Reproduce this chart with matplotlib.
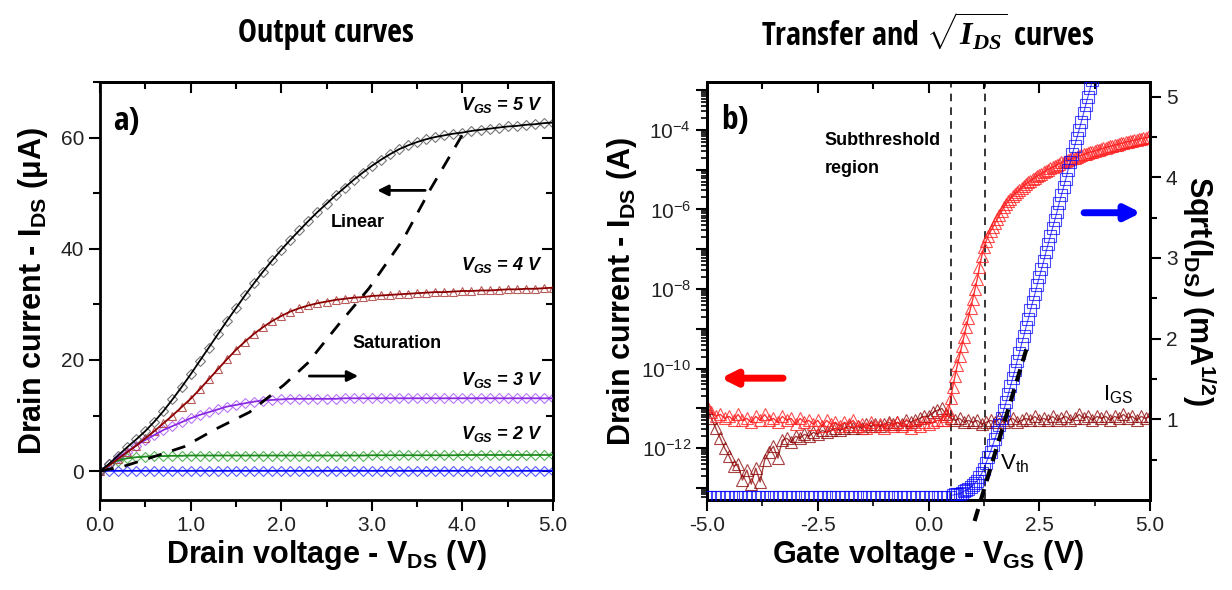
import numpy as np
import matplotlib
matplotlib.use("Agg")
import matplotlib.pyplot as plt
from matplotlib.ticker import MultipleLocator, FixedLocator, FormatStrFormatter, LogLocator, FuncFormatter, NullFormatter

plt.rcParams['font.family'] = ['Liberation Sans', 'DejaVu Sans']
plt.rcParams['mathtext.fontset'] = 'custom'
plt.rcParams['mathtext.it'] = 'Liberation Serif:italic:bold'
plt.rcParams['mathtext.default'] = 'regular'

# ---- panel a: output curves (I_DS in uA vs V_DS) ----
vds = np.round(np.linspace(0, 5, 51), 2)
ids_5v = [0.0, 1.3, 2.8, 4.3, 5.7, 7.2, 8.9, 10.8, 12.9, 15.1,
          17.4, 19.8, 22.2, 24.6, 27.0, 29.3, 31.6, 33.8, 35.9, 37.9,
          39.8, 41.6, 43.3, 45.0, 46.6, 48.1, 49.6, 51.0, 52.4, 53.7,
          54.9, 56.0, 57.0, 57.9, 58.6, 59.2, 59.7, 60.1, 60.4, 60.7,
          60.9, 61.2, 61.4, 61.6, 61.8, 62.0, 62.1, 62.3, 62.4, 62.6, 62.7]
ids_4v = [0.0, 1.0, 2.2, 3.4, 4.6, 5.9, 7.2, 8.6, 10.0, 11.5,
          13.0, 14.7, 16.5, 18.3, 20.1, 21.8, 23.3, 24.7, 25.9, 27.0,
          27.9, 28.7, 29.3, 29.8, 30.2, 30.5, 30.8, 31.0, 31.2, 31.3,
          31.5, 31.6, 31.7, 31.8, 31.9, 32.0, 32.1, 32.2, 32.2, 32.3,
          32.4, 32.4, 32.5, 32.5, 32.6, 32.7, 32.7, 32.8, 32.8, 32.9, 33.0]
ids_3v = [0.0, 1.2, 2.4, 3.5, 4.6, 5.6, 6.5, 7.4, 8.1, 8.8,
          9.5, 10.1, 10.6, 11.1, 11.6, 11.9, 12.2, 12.5, 12.7, 12.8,
          12.9, 13.0, 13.0, 13.0, 13.0, 13.0, 13.0, 13.1, 13.1, 13.1,
          13.1, 13.1, 13.1, 13.1, 13.1, 13.1, 13.1, 13.1, 13.1, 13.1,
          13.1, 13.1, 13.1, 13.1, 13.1, 13.1, 13.1, 13.1, 13.1, 13.1, 13.1]
ids_2v = [0.0, 1.2, 1.9, 2.3, 2.5, 2.6, 2.7, 2.7, 2.75, 2.75,
          2.8, 2.8, 2.8, 2.8, 2.8, 2.8, 2.8, 2.8, 2.8, 2.8,
          2.8, 2.8, 2.8, 2.8, 2.8, 2.8, 2.8, 2.8, 2.8, 2.8,
          2.85, 2.85, 2.85, 2.85, 2.85, 2.85, 2.85, 2.85, 2.85, 2.85,
          2.9, 2.9, 2.9, 2.9, 2.9, 2.9, 2.9, 2.9, 2.9, 2.9, 2.9]
ids_1v = [0.0, 0.05, 0.05, 0.05, 0.05, 0.05, 0.05, 0.05, 0.05, 0.05,
          0.05, 0.05, 0.05, 0.05, 0.05, 0.05, 0.05, 0.05, 0.05, 0.05,
          0.05, 0.05, 0.05, 0.05, 0.05, 0.05, 0.05, 0.05, 0.05, 0.05,
          0.05, 0.05, 0.05, 0.05, 0.05, 0.05, 0.05, 0.05, 0.05, 0.05,
          0.05, 0.05, 0.05, 0.05, 0.05, 0.05, 0.05, 0.05, 0.05, 0.05, 0.05]
# saturation boundary (dashed)
sat_v = [0.0, 0.25, 0.54, 0.93, 1.27, 1.65, 2.03, 2.29, 2.63, 2.97, 3.35, 3.65, 4.01]
sat_i = [0.0, 0.8, 2.3, 4.4, 7.5, 10.6, 15.5, 19.4, 26.3, 32.9, 41.8, 50.8, 60.8]
vgs_labels = ["5", "4", "3", "2"]
vgs_label_y = [65.9, 37.0, 16.3, 6.6]

# ---- panel b: transfer curves ----
vgs_flat = np.round(np.linspace(-5.0, 0.3, 54), 2)
logids_flat = [-10.95, -11.1, -11.2, -11.15, -11.25, -11.2, -11.3, -11.15, -11.3, -11.25,
               -11.35, -11.2, -11.3, -11.15, -11.3, -11.25, -11.35, -11.2, -11.3, -11.25,
               -11.4, -11.25, -11.35, -11.3, -11.4, -11.3, -11.45, -11.3, -11.4, -11.35,
               -11.45, -11.35, -11.4, -11.3, -11.45, -11.4, -11.5, -11.35, -11.45, -11.4,
               -11.5, -11.4, -11.45, -11.35, -11.45, -11.4, -11.5, -11.4, -11.45, -11.35,
               -11.4, -11.35, -11.3, -11.3]
vgs_rise = np.round(np.linspace(0.35, 5.0, 94), 2)
logids_rise = [-11.3, -11.2, -11.05, -10.75, -10.45, -10.18, -9.92, -9.68, -9.44, -9.2,
               -8.95, -8.72, -8.48, -8.25, -8.0, -7.75, -7.45, -7.18, -6.95, -6.8,
               -6.66, -6.55, -6.45, -6.35, -6.25, -6.15, -6.05, -5.95, -5.87, -5.8,
               -5.73, -5.67, -5.61, -5.56, -5.51, -5.46, -5.41, -5.36, -5.32, -5.28,
               -5.24, -5.2, -5.16, -5.13, -5.1, -5.06, -5.03, -5.0, -4.97, -4.94,
               -4.91, -4.88, -4.85, -4.82, -4.8, -4.78, -4.76, -4.74, -4.72, -4.7,
               -4.68, -4.66, -4.64, -4.62, -4.6, -4.58, -4.56, -4.55, -4.53, -4.51,
               -4.5, -4.48, -4.46, -4.45, -4.43, -4.42, -4.4, -4.39, -4.37, -4.36,
               -4.34, -4.33, -4.31, -4.3, -4.29, -4.27, -4.26, -4.25, -4.23, -4.22,
               -4.21, -4.2, -4.19, -4.18]
vgs_all = np.round(np.linspace(-5.0, 5.0, 101), 2)
logigs = [-11.0, -11.25, -11.5, -11.75, -12.0, -12.2, -12.45, -12.4, -12.8, -12.55,
          -12.9, -12.5, -12.85, -12.3, -12.1, -11.95, -12.25, -11.8, -11.75, -11.85,
          -11.7, -11.75, -11.65, -11.7, -11.6, -11.65, -11.55, -11.6, -11.55, -11.5,
          -11.55, -11.5, -11.45, -11.5, -11.45, -11.5, -11.4, -11.45, -11.4, -11.45,
          -11.4, -11.35, -11.4, -11.35, -11.4, -11.3, -11.35, -11.3, -11.25, -11.2,
          -11.2, -11.1, -11.05, -11.0, -11.15, -11.25, -11.3, -11.25, -11.35, -11.3,
          -11.35, -11.3, -11.4, -11.35, -11.3, -11.35, -11.25, -11.35, -11.3, -11.25,
          -11.35, -11.3, -11.25, -11.3, -11.2, -11.3, -11.25, -11.3, -11.2, -11.3,
          -11.25, -11.2, -11.3, -11.25, -11.15, -11.25, -11.2, -11.3, -11.2, -11.25,
          -11.2, -11.3, -11.2, -11.25, -11.15, -11.25, -11.2, -11.3, -11.2, -11.25, -11.2]
vgs_sq_flat = np.round(np.linspace(-5.0, 0.5, 56), 2)
sqrt_flat = [0.05] * 56
vgs_sq_rise = np.round(np.linspace(0.55, 3.85, 67), 2)
sqrt_rise = [0.06, 0.07, 0.07, 0.08, 0.09, 0.11, 0.12, 0.14, 0.16, 0.18,
             0.21, 0.24, 0.28, 0.33, 0.39, 0.46, 0.53, 0.60, 0.68, 0.76,
             0.84, 0.93, 1.02, 1.12, 1.21, 1.31, 1.41, 1.51, 1.61, 1.72,
             1.82, 1.93, 2.03, 2.14, 2.24, 2.35, 2.45, 2.55, 2.66, 2.76,
             2.86, 2.96, 3.07, 3.17, 3.27, 3.37, 3.47, 3.57, 3.68, 3.78,
             3.88, 3.98, 4.09, 4.19, 4.29, 4.39, 4.49, 4.59, 4.69, 4.79,
             4.90, 5.00, 5.10, 5.20, 5.30, 5.40, 5.50]
vth_fit_v = [1.04, 2.21]
vth_fit_s = [-0.26, 1.87]
region_lines = [0.5, 1.27]

fig = plt.figure(figsize=(12.32, 5.9), dpi=100)
W, H = 1232, 590
ax = fig.add_axes([100 / W, 1 - 500 / H, 453 / W, 418 / H])
bx = fig.add_axes([707 / W, 1 - 500 / H, 443 / W, 418 / H])

COND = ['Open Sans Condensed', 'Roboto Condensed', 'Liberation Sans Narrow', 'DejaVu Sans']
tick_kw = dict(labelsize=15, width=1.5, labelcolor='#222222')
label_font = dict(weight='bold', size=22)
note_font = dict(weight='bold', size=13)
vgs_font = dict(weight='bold', style='italic', size=13)
panel_font = dict(family=COND, stretch='condensed', weight='bold', size=24, va='center')
title_font = dict(family=COND, stretch='condensed', weight='bold', size=23, ha='center', va='center')

# ---------------- panel a ----------------
series_a = [(ids_1v, '#0000ff', 'D', '#3333ff'),
            (ids_2v, '#1b8a1b', 'D', '#33a033'),
            (ids_3v, '#8a2be2', 'D', '#a855f7'),
            (ids_4v, '#8b0000', '^', '#a83232'),
            (ids_5v, '#000000', 'D', '#555555')]
for vals, lc, mk, mc in series_a:
    ax.plot(vds, vals, color=lc, lw=1.3, zorder=3)
    ax.plot(vds, vals, ls='none', marker=mk, ms=5.5, mfc='none', mec=mc, mew=0.8, alpha=0.8, zorder=2)
ax.plot(sat_v, sat_i, ls=(0, (5, 4)), color='k', lw=2, zorder=4)

ax.set_xlim(0, 5)
ax.set_ylim(-5.2, 70)
ax.xaxis.set_major_locator(MultipleLocator(1))
ax.xaxis.set_minor_locator(MultipleLocator(0.5))
ax.xaxis.set_major_formatter(FormatStrFormatter('%.1f'))
ax.yaxis.set_major_locator(MultipleLocator(20))
ax.yaxis.set_minor_locator(MultipleLocator(10))
ax.tick_params(which='both', direction='out', top=False, right=False, **tick_kw)
ax.tick_params(which='major', length=8)
ax.tick_params(which='minor', length=5, width=1.5)
sx = ax.secondary_xaxis('top')
sx.xaxis.set_major_locator(MultipleLocator(1))
sx.xaxis.set_minor_locator(MultipleLocator(0.5))
sx.tick_params(which='both', direction='in', labeltop=False, width=1.5)
sx.tick_params(which='major', length=8)
sx.tick_params(which='minor', length=5)
sy = ax.secondary_yaxis('right')
sy.yaxis.set_major_locator(MultipleLocator(20))
sy.yaxis.set_minor_locator(MultipleLocator(10))
sy.tick_params(which='both', direction='in', labelright=False, width=1.5)
sy.tick_params(which='major', length=8)
sy.tick_params(which='minor', length=5)
for s in list(ax.spines.values()) + [sx.spines['top'], sy.spines['right']]:
    s.set_linewidth(2)

ax.set_xlabel(r"Drain voltage - V$_{\mathregular{DS}}$ (V)", labelpad=2, **label_font)
ax.set_ylabel(r"Drain current - I$_{\mathregular{DS}}$ ($\mathregular{\mu}$A)", labelpad=8, **label_font)

for lab, yy in zip(vgs_labels, vgs_label_y):
    ax.text(3.99, yy, r"V$_{\mathregular{GS}}$ = " + lab + " V", va='center', **vgs_font)
ax.text(0.14, 62.9, "a)", **panel_font)
ax.text(2.84, 44.8, "Linear", ha='center', va='center', **note_font)
ax.text(3.28, 23.0, "Saturation", ha='center', va='center', **note_font)
ax.annotate('', xy=(3.03, 50.5), xytext=(3.62, 50.5),
            arrowprops=dict(arrowstyle='-|>', lw=2, color='k', mutation_scale=16))
ax.annotate('', xy=(2.88, 17.1), xytext=(2.28, 17.1),
            arrowprops=dict(arrowstyle='-|>', lw=2, color='k', mutation_scale=16))

# ---------------- panel b ----------------
bx.set_yscale('log')
bx.plot(vgs_all, 10.0 ** np.array(logigs), color='#8b0000', lw=1.0, marker='^', ms=9,
        mfc='none', mec='#8b0000', mew=0.8, alpha=0.75, zorder=3)
bx.plot(vgs_flat, 10.0 ** np.array(logids_flat), color='#ff0000', lw=1.0, marker='^', ms=9,
        mfc='none', mec='#ff2020', mew=0.8, alpha=0.8, zorder=3)
bx.plot(vgs_rise, 10.0 ** np.array(logids_rise), color='#ff0000', lw=1.0, marker='^', ms=9,
        mfc='none', mec='#ff2020', mew=0.8, alpha=0.8, zorder=3)
for xv in region_lines:
    bx.axvline(xv, color='k', ls=(0, (5, 4)), lw=1.1, zorder=1)
bx.set_xlim(-5, 5)
bx.set_ylim(10 ** -13.3, 10 ** -2.8)
bx.xaxis.set_major_locator(MultipleLocator(2.5))
bx.xaxis.set_minor_locator(MultipleLocator(1.25))
bx.xaxis.set_major_formatter(FormatStrFormatter('%.1f'))
bx.yaxis.set_major_locator(LogLocator(base=10, numticks=20))
bx.yaxis.set_minor_locator(LogLocator(base=10, subs=np.arange(2, 10), numticks=20))
bx.yaxis.set_minor_formatter(NullFormatter())


def even_decades(v, pos):
    e = int(round(np.log10(v)))
    return r"$\mathregular{10^{%d}}$" % e if e % 2 == 0 else ""


bx.yaxis.set_major_formatter(FuncFormatter(even_decades))
bx.tick_params(which='both', direction='out', top=False, **tick_kw)
bx.tick_params(which='major', length=8)
bx.tick_params(which='minor', length=4, width=1.2)
bsx = bx.secondary_xaxis('top')
bsx.xaxis.set_major_locator(MultipleLocator(2.5))
bsx.xaxis.set_minor_locator(MultipleLocator(1.25))
bsx.tick_params(which='both', direction='in', labeltop=False, width=1.5)
bsx.tick_params(which='major', length=8)
bsx.tick_params(which='minor', length=5)

rx = bx.twinx()
rx.plot(vgs_sq_flat, sqrt_flat, ls='none', marker='s', ms=7, mfc='none', mec='#0000ff', mew=0.8, alpha=0.7, zorder=4)
rx.plot(vgs_sq_rise, sqrt_rise, color='#0000ff', lw=0.8, marker='s', ms=8, mfc='none', mec='#0000ff',
        mew=0.8, alpha=0.7, zorder=4)
rx.plot(vth_fit_v, vth_fit_s, color='k', lw=3, ls=(0, (3, 2)), clip_on=False, zorder=5)
rx.set_ylim(0, 5.18)
rx.yaxis.set_major_locator(FixedLocator([1, 2, 3, 4, 5]))
rx.yaxis.set_minor_locator(FixedLocator([0.5, 1.5, 2.5, 3.5, 4.5]))
rx.tick_params(which='both', direction='out', **tick_kw)
rx.tick_params(which='major', length=8)
rx.tick_params(which='minor', length=5)
for s in list(bx.spines.values()) + list(rx.spines.values()) + [bsx.spines['top']]:
    s.set_linewidth(2)

bx.set_xlabel(r"Gate voltage - V$_{\mathregular{GS}}$ (V)", labelpad=2, **label_font)
bx.set_ylabel(r"Drain current - I$_{\mathregular{DS}}$ (A)", labelpad=2, **label_font)
rx.set_ylabel(r"Sqrt(I$_{\mathregular{DS}}$) (mA$^{\mathregular{1/2}}$)", rotation=270, labelpad=30, **label_font)

bx.text(-4.68, 10 ** -3.77, "b)", **panel_font)
bx.text(-2.34, 10 ** -4.27, "Subthreshold", va='center', **note_font)
bx.text(-2.34, 10 ** -4.98, "region", va='center', **note_font)
rx.text(1.62, 0.45, r"V$_{\mathregular{th}}$", fontsize=16, va='center')
rx.text(3.95, 1.3, r"I$_{\mathregular{GS}}$", fontsize=16, va='center')
bx.annotate('', xy=(-4.75, 10 ** -10.24), xytext=(-3.22, 10 ** -10.24),
            arrowprops=dict(arrowstyle='-|>', lw=5, color='#ff0000', mutation_scale=22))
rx.annotate('', xy=(4.86, 3.56), xytext=(3.45, 3.56),
            arrowprops=dict(arrowstyle='-|>', lw=5, color='#0000ff', mutation_scale=22))

fig.text(326 / W, 1 - 33 / H, "Output curves", **title_font)
fig.text(928 / W, 1 - 33 / H, r"Transfer and $\sqrt{\mathit{I_{DS}}}$ curves", **title_font)

fig.savefig("out.png", dpi=100)
